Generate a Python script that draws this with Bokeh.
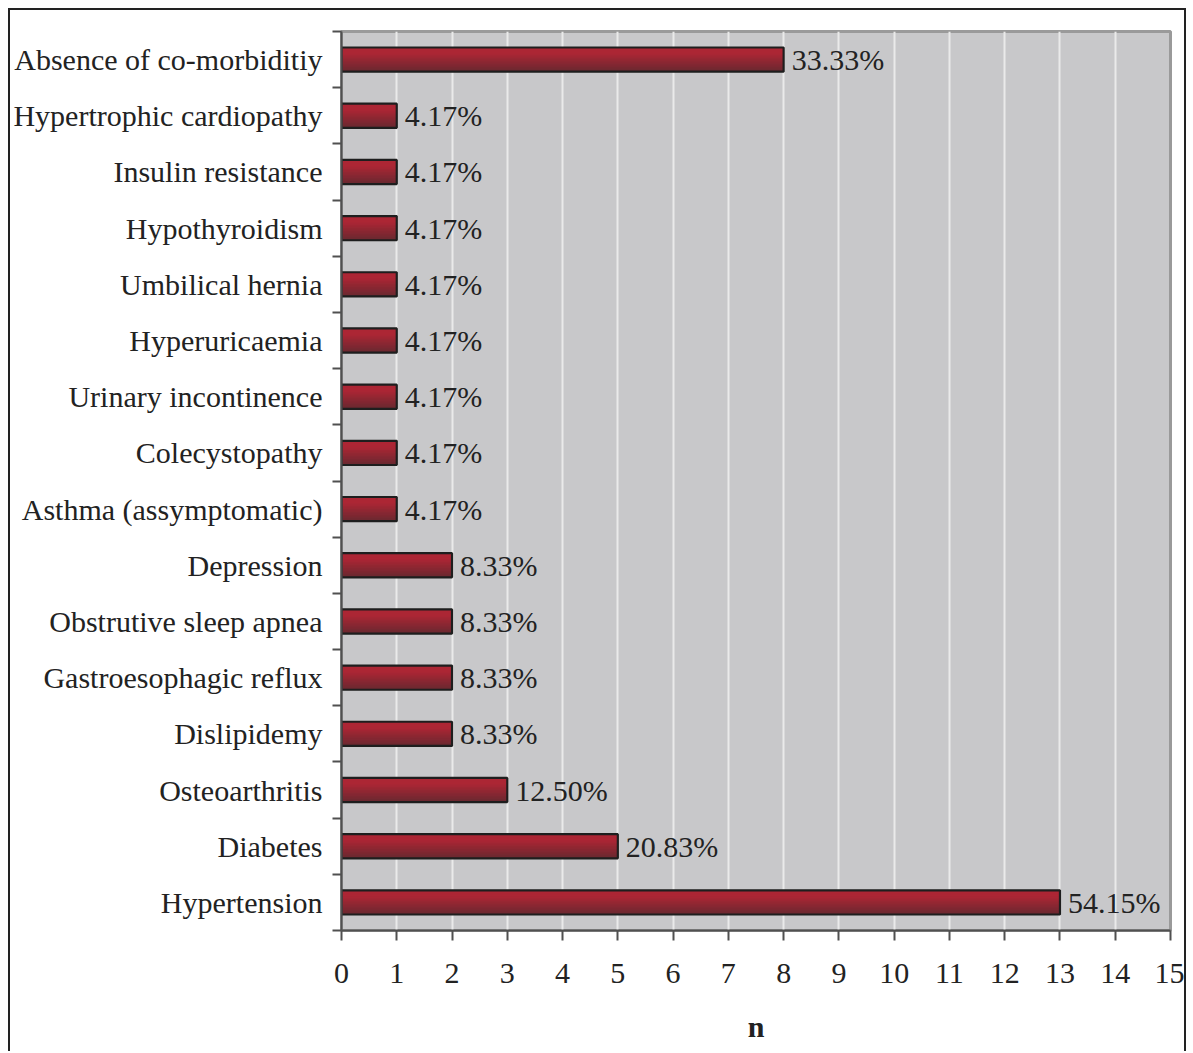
from bokeh.plotting import figure
from bokeh.models import Range1d, LinearAxis, FixedTicker, ColumnDataSource
from bokeh.core.properties import value
from bokeh.transform import dodge
from bokeh.embed import file_html
from bokeh.resources import INLINE

categories = [
    "Absence of co-morbiditiy",
    "Hypertrophic cardiopathy",
    "Insulin resistance",
    "Hypothyroidism",
    "Umbilical hernia",
    "Hyperuricaemia",
    "Urinary incontinence",
    "Colecystopathy",
    "Asthma (assymptomatic)",
    "Depression",
    "Obstrutive sleep apnea",
    "Gastroesophagic reflux",
    "Dislipidemy",
    "Osteoarthritis",
    "Diabetes",
    "Hypertension",
]
counts = [8, 1, 1, 1, 1, 1, 1, 1, 1, 2, 2, 2, 2, 3, 5, 13]
percent_labels = ["33.33%", "4.17%", "4.17%", "4.17%", "4.17%", "4.17%", "4.17%", "4.17%",
                  "4.17%", "8.33%", "8.33%", "8.33%", "8.33%", "12.50%", "20.83%", "54.15%"]
x_ticks = list(range(0, 16))
x_title = "n"

FONT = "Liberation Serif"
FS = "30px"
n = len(categories)
ypos = [n - 0.5 - i for i in range(n)]
src = ColumnDataSource(dict(cat=categories, count=counts, label=percent_labels, y=ypos))

p = figure(width=1178, height=1043, x_range=Range1d(0, 15), y_range=Range1d(0, n),
           output_backend="svg", toolbar_location=None, y_axis_location=None,
           min_border_left=331, min_border_right=18, min_border_top=21, min_border_bottom=123)
p.styles = {"margin": "8px 0 0 8px", "border": "2px solid #222", "border-bottom": "none"}

p.background_fill_color = "#C8C8CA"
p.border_fill_color = "white"
p.outline_line_color = "#9a9a9a"
p.outline_line_width = 3

# x grid
p.xgrid.ticker = FixedTicker(ticks=x_ticks)
p.xgrid.grid_line_color = "#EAEAEA"
p.xgrid.grid_line_width = 2
p.ygrid.grid_line_color = None

# x axis
xa = p.xaxis[0]
xa.ticker = FixedTicker(ticks=x_ticks)
xa.major_tick_out = 10
xa.major_tick_in = 0
xa.minor_tick_line_color = None
xa.axis_line_color = "#505050"
xa.axis_line_width = 2
xa.major_tick_line_color = "#505050"
xa.major_tick_line_width = 2
xa.major_label_text_font = FONT
xa.major_label_text_font_size = FS
xa.major_label_text_color = "#222222"
xa.major_label_standoff = 23
xa.axis_label = x_title
xa.axis_label_text_font = FONT
xa.axis_label_text_font_size = FS
xa.axis_label_text_font_style = "bold"
xa.axis_label_text_color = "#222222"
xa.axis_label_standoff = 24

# left axis: names at band centres, tick marks (minor) at band boundaries
cat_axis = LinearAxis(ticker=FixedTicker(ticks=ypos, minor_ticks=list(range(n + 1))),
                      major_label_overrides={y: c for y, c in zip(ypos, categories)},
                      axis_line_color="#505050", axis_line_width=2,
                      major_tick_line_color=None, major_tick_out=0, major_tick_in=0,
                      minor_tick_line_color="#505050", minor_tick_line_width=2,
                      minor_tick_out=9, minor_tick_in=0,
                      major_label_text_font=FONT, major_label_text_font_size=FS,
                      major_label_text_color="#222222", major_label_standoff=10)
p.add_layout(cat_axis, "left")

# bars with vertical gradient (overlapping strips, top to bottom)
BAR_H = 0.43
N = 16
top = (172, 38, 52)
bot = (104, 40, 48)
for k in range(N):
    t = (k + 0.5) / N
    f = max(0.0, (t - 0.25) / 0.75)
    c = tuple(int(round(top[j] + (bot[j] - top[j]) * f)) for j in range(3))
    col = "#%02x%02x%02x" % c
    h = BAR_H * (1 - k / N)
    off = -BAR_H / 2 + h / 2
    p.hbar(y=dodge("y", off), left=0, right="count", height=h,
           fill_color=col, line_color=None, source=src)
p.hbar(y="y", left=0, right="count", height=BAR_H, fill_color=None,
       line_color="#1e1e1e", line_width=2.2, source=src)

p.text(x="count", y="y", text="label", x_offset=8, text_baseline="middle",
       text_font=value(FONT), text_font_size=FS, text_color="#222222", source=src)

open("out.html", "w").write(file_html(p, INLINE))
